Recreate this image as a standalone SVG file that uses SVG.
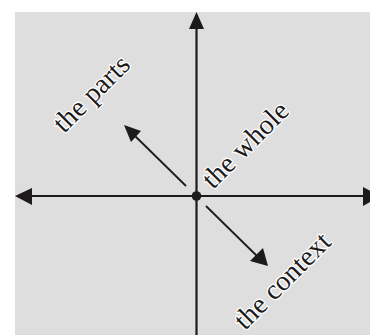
<svg xmlns="http://www.w3.org/2000/svg" width="370" height="335" viewBox="0 0 370 335">
  <style>
    .axis { stroke: #1c1a1a; stroke-width: 2.2; fill: none; }
    .diag { stroke: #1c1a1a; stroke-width: 1.8; fill: none; }
    .head { fill: #1c1a1a; }
    .label { font-family: "Liberation Serif", "Times New Roman", serif; font-size: 28px; fill: #1c1a1a; stroke: #ffffff; stroke-width: 2.5; stroke-linejoin: round; paint-order: stroke; }
  </style>
  <rect x="0" y="0" width="370" height="335" fill="#ffffff"/>
  <rect x="15" y="12" width="355" height="323" fill="#dedede"/>

  <g id="connectors">
    <!-- vertical axis -->
    <line class="axis" x1="196.5" y1="26" x2="196.5" y2="335"/>
    <polygon class="head" points="196.5,12 189,29 204,29"/>
    <!-- horizontal axis -->
    <line class="axis" x1="29" y1="196" x2="370" y2="196"/>
    <polygon class="head" points="15,196 32,188 32,205"/>
    <polygon class="head" points="380,196 363,187 363,206"/>
    <!-- toward the parts -->
    <line class="diag" x1="186" y1="186" x2="133" y2="134"/>
    <polygon class="head" points="124,125 141,131 131,142"/>
    <!-- toward the context -->
    <line class="diag" x1="206" y1="206" x2="259" y2="258"/>
    <polygon class="head" points="268,266 250,261 263,248"/>
  </g>

  <g id="whole">
    <circle cx="196.5" cy="196" r="4.8" fill="#1c1a1a"/>
    <text class="label" transform="translate(213,190) rotate(-45)">the whole</text>
  </g>
  <g id="parts">
    <text class="label" transform="translate(64,134) rotate(-45)">the parts</text>
  </g>
  <g id="context">
    <text class="label" transform="translate(245,331) rotate(-45)">the context</text>
  </g>
</svg>
